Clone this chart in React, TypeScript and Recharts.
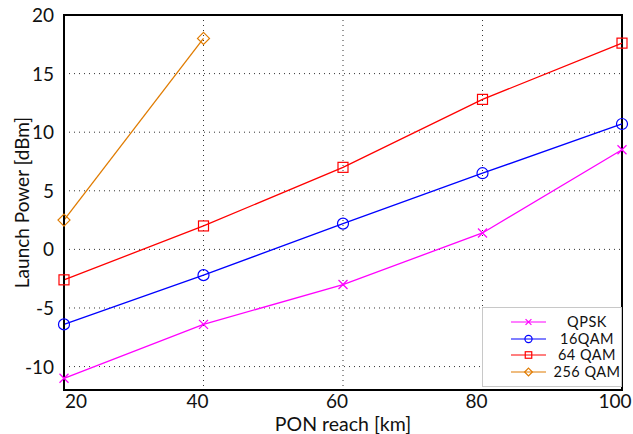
import {
    LineChart, Line, XAxis, YAxis, CartesianGrid, Legend, ReferenceArea, Label
} from 'recharts';

const reach = [20, 40, 60, 80, 100];
const qpsk = [-11, -6.4, -3.0, 1.4, 8.5];
const qam16 = [-6.4, -2.2, 2.2, 6.5, 10.7];
const qam64 = [-2.6, 2.0, 7.0, 12.8, 17.6];
const qam256 = [2.5, 18, null, null, null];
const xTicks = [20, 40, 60, 80, 100];
const yTicks = [-10, -5, 0, 5, 10, 15, 20];

const series = [
    { key: 'qpsk', name: 'QPSK', color: '#ff00ff', shape: 'x' },
    { key: 'qam16', name: '16QAM', color: '#0000ff', shape: 'o' },
    { key: 'qam64', name: '64 QAM', color: '#ff0000', shape: 's' },
    { key: 'qam256', name: '256 QAM', color: '#e07b00', shape: 'd' },
];

const data = reach.map((r, i) => ({
    reach: r,
    qpsk: qpsk[i],
    qam16: qam16[i],
    qam64: qam64[i],
    qam256: qam256[i],
}));

const FONT = 'Lato, "Open Sans", sans-serif';

function Marker({ shape, x, y, color, s = 1 }) {
    if (shape === 'x') {
        const d = 4.5 * s;
        return (
            <g stroke={color} strokeWidth={1.2}>
                <line x1={x - d} y1={y - d} x2={x + d} y2={y + d} />
                <line x1={x - d} y1={y + d} x2={x + d} y2={y - d} />
            </g>
        );
    }
    if (shape === 'o') {
        return <circle cx={x} cy={y} r={5.5 * s} fill='none' stroke={color} strokeWidth={1.2} />;
    }
    if (shape === 's') {
        const d = 5 * s;
        return <rect x={x - d} y={y - d} width={2 * d} height={2 * d} fill='none' stroke={color} strokeWidth={1.2} />;
    }
    const d = 6 * s;
    return (
        <polygon
            points={`${x},${y - d} ${x + d},${y} ${x},${y + d} ${x - d},${y}`}
            fill='none' stroke={color} strokeWidth={1.2} />
    );
}

const makeDot = (shape, color) => (props) => {
    const { cx, cy, value, index } = props;
    if (value === null || value === undefined || cx == null || cy == null) {
        return <g key={index} />;
    }
    return <g key={index}><Marker shape={shape} x={cx} y={cy} color={color} /></g>;
};

const XTick = ({ x, y, payload }) => {
    const first = payload.value === 20;
    return (
        <text x={first ? x + 1 : x - 6} y={y + 10} textAnchor={first ? 'start' : 'middle'}
            fontSize={19} fontFamily={FONT} fill='#111'>{payload.value}</text>
    );
};

const YTick = ({ x, y, payload }) => (
    <text x={x} y={y + 7} textAnchor='end' fontSize={19} fontFamily={FONT} fill='#111'>{payload.value}</text>
);

const LegendBox = () => (
    <div style={{
        width: 140, height: 80, border: '1px solid #c8c8c8', background: '#fff',
        boxSizing: 'border-box', paddingTop: 6, fontFamily: FONT, fontSize: 14.5,
    }}>
        {series.map((s) => (
            <div key={s.key} style={{ display: 'flex', alignItems: 'center', height: 16.5 }}>
                <svg width={70} height={16} style={{ flexShrink: 0 }}>
                    <line x1={28} y1={8} x2={63} y2={8} stroke={s.color} strokeWidth={1.2} />
                    <Marker shape={s.shape} x={45.5} y={8} color={s.color} s={0.65} />
                </svg>
                <span style={{
                    width: 68, textAlign: 'center', color: '#111', lineHeight: '16px',
                    whiteSpace: 'nowrap', letterSpacing: 0.5,
                }}>{s.name}</span>
            </div>
        ))}
    </div>
);

export default function App() {
    return (
        <div style={{ position: 'absolute', left: 0, top: 0, width: 633, height: 434 }}>
            <LineChart
                width={633}
                height={434}
                data={data}
                margin={{ top: 15, right: 11, bottom: 0, left: 14 }}
            >
                <CartesianGrid stroke='#333' strokeDasharray='1 4' />
                <XAxis
                    dataKey='reach'
                    type='number'
                    domain={[20, 100]}
                    ticks={xTicks}
                    height={44}
                    tick={<XTick />}
                    tickLine={false}
                    axisLine={{ stroke: '#000', strokeWidth: 2 }}
                >
                    <Label value='PON reach [km]' position='insideBottom' offset={3}
                        style={{ fontSize: 19.5, fontFamily: FONT, fill: '#111' }} />
                </XAxis>
                <YAxis
                    type='number'
                    domain={[-12, 20]}
                    ticks={yTicks}
                    width={50}
                    tick={<YTick />}
                    tickLine={false}
                    tickMargin={4}
                    axisLine={{ stroke: '#000', strokeWidth: 2 }}
                >
                    <Label value='Launch Power [dBm]' angle={-90} position='insideLeft' offset={8}
                        style={{ fontSize: 19, fontFamily: FONT, fill: '#111', textAnchor: 'middle' }} />
                </YAxis>
                <ReferenceArea x1={20} x2={100} y1={-12} y2={20} fill='none'
                    stroke='#000' strokeWidth={2} ifOverflow='visible' />
                {series.map((s) => (
                    <Line
                        key={s.key}
                        dataKey={s.key}
                        name={s.name}
                        stroke={s.color}
                        strokeWidth={1.3}
                        dot={makeDot(s.shape, s.color)}
                        activeDot={false}
                        isAnimationActive={false}
                    />
                ))}
                <Legend
                    content={<LegendBox />}
                    layout='horizontal'
                    align='center'
                    verticalAlign='middle'
                    wrapperStyle={{ left: 482, top: 307, width: 140, height: 80, bottom: 'auto' }}
                />
            </LineChart>
        </div>
    );
}
